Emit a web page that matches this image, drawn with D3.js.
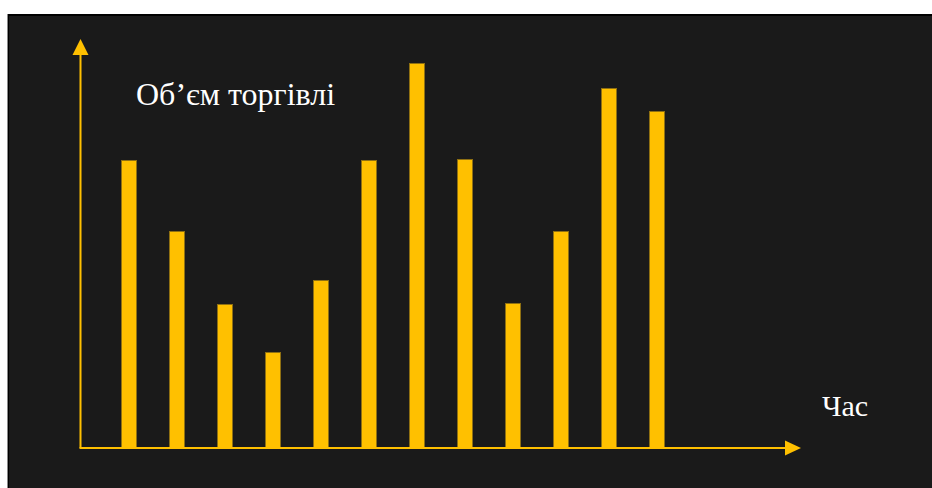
<!DOCTYPE html>
<html>
<head>
<meta charset="utf-8">
<script src="https://cdn.jsdelivr.net/npm/d3@7"></script>
<style>
  html, body { margin: 0; padding: 0; background: #ffffff; }
  svg { display: block; }
  .title { font-family: "Liberation Serif", "Times New Roman", serif; fill: #ffffff; }
</style>
</head>
<body>
<svg id="chart" width="932" height="488"></svg>
<script>
// Hourly trading volume (relative units)
const hours = ["1", "2", "3", "4", "5", "6", "7", "8", "9", "10", "11", "12"];
const volume = [287, 216, 143, 95, 167, 287, 384, 288, 144, 216, 359, 336];
const yAxisLabel = "Об’єм торгівлі";
const xAxisLabel = "Час";

const svg = d3.select("#chart");
const W = 932, H = 488;
const gold = "#FFC000";

// panel background
svg.append("rect")
  .attr("x", 7).attr("y", 14).attr("width", W - 7).attr("height", H - 14)
  .attr("fill", "#1a1a1a");
svg.append("line")
  .attr("x1", 7).attr("x2", W).attr("y1", 15).attr("y2", 15)
  .attr("stroke", "#000").attr("stroke-width", 2);
svg.append("line")
  .attr("x1", 7.5).attr("x2", 7.5).attr("y1", 14).attr("y2", H)
  .attr("stroke", "#8a8a8a").attr("stroke-width", 1);
svg.append("line")
  .attr("x1", 8.5).attr("x2", 8.5).attr("y1", 14).attr("y2", H)
  .attr("stroke", "#000").attr("stroke-width", 1);

const originX = 80.5, originY = 448;

const x = d3.scaleBand()
  .domain(hours)
  .range([105, 105 + 48 * hours.length])
  .paddingInner(2 / 3)
  .paddingOuter(1 / 3);

const y = d3.scaleLinear()
  .domain([0, 400])
  .range([447, 47]);

// bars
svg.append("g")
  .selectAll("rect")
  .data(volume)
  .join("rect")
  .attr("x", (d, i) => x(hours[i]) + 0.5)
  .attr("y", d => y(d) + 0.5)
  .attr("width", x.bandwidth() - 1)
  .attr("height", d => y(0) - y(d))
  .attr("fill", gold)
  .attr("stroke", "#8f7012")
  .attr("stroke-width", 1);

// axes with arrowheads
const axes = svg.append("g");
axes.append("line")
  .attr("x1", originX).attr("x2", originX)
  .attr("y1", originY).attr("y2", 54)
  .attr("stroke", gold).attr("stroke-width", 2);
axes.append("path")
  .attr("d", `M${originX - 8},55 L${originX},39 L${originX + 8},55 Z`)
  .attr("fill", gold);
axes.append("line")
  .attr("x1", originX - 1).attr("x2", 786)
  .attr("y1", originY).attr("y2", originY)
  .attr("stroke", gold).attr("stroke-width", 2);
axes.append("path")
  .attr("d", `M785,${originY - 7.5} L801,${originY} L785,${originY + 7.5} Z`)
  .attr("fill", gold);

// axis titles
svg.append("text")
  .attr("class", "title")
  .attr("font-size", 32)
  .attr("x", 136).attr("y", 105)
  .text(yAxisLabel);
svg.append("text")
  .attr("class", "title")
  .attr("font-size", 30)
  .attr("x", 822).attr("y", 416)
  .text(xAxisLabel);
</script>
</body>
</html>
